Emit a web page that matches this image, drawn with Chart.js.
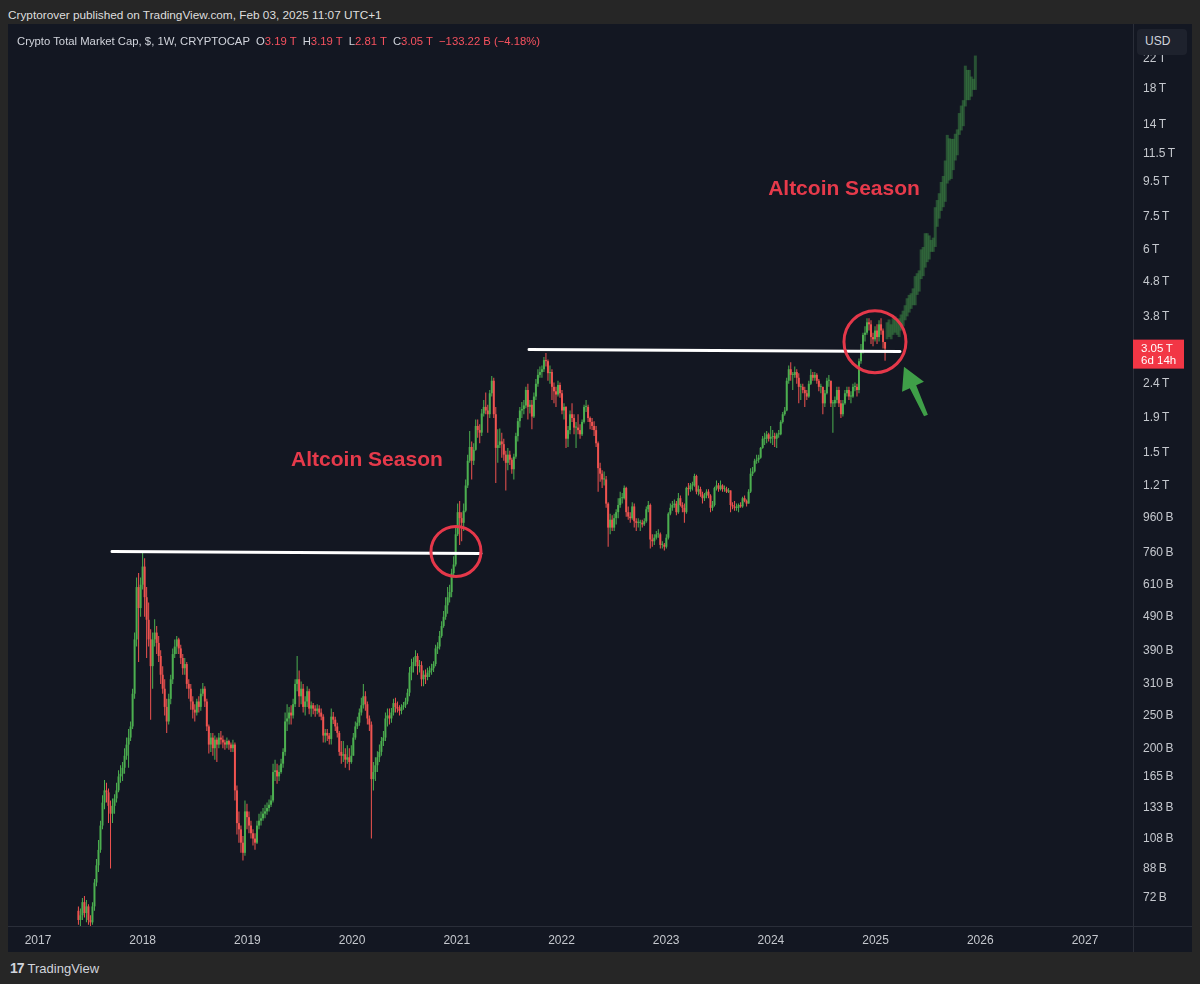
<!DOCTYPE html>
<html>
<head>
<meta charset="utf-8">
<script src="https://cdn.jsdelivr.net/npm/chart.js@4.4.1/dist/chart.umd.min.js"></script>
<style>
  html, body { margin: 0; padding: 0; }
  body { width: 1200px; height: 984px; background: #262626; position: relative; overflow: hidden;
         font-family: "Liberation Sans", Arial, sans-serif; }
  #pub { position: absolute; left: 8px; top: 8px; font-size: 11.8px; color: #dedede; white-space: nowrap; }
  #panel { position: absolute; left: 8px; top: 24px; width: 1184px; height: 928px; background: #131722; }
  #chart { position: absolute; left: 8px; top: 24px; }
  #legend { position: absolute; left: 17px; top: 35px; font-size: 11.3px; color: #d1d4dc; white-space: pre; z-index: 2; }
  #legend .r { color: #f7525f; }
  #usd { position: absolute; left: 1137px; top: 29px; width: 50px; height: 26px; border-radius: 4px;
         background: #1e222d; color: #d1d4dc; font-size: 12px; line-height: 24px; text-indent: 8px; z-index: 2; }
  #logo { position: absolute; left: 10px; top: 960px; font-size: 13px; color: #d1d4dc; white-space: nowrap; }
  #logo b { font-size: 14px; letter-spacing: -1px; margin-right: 4px; }
</style>
</head>
<body>
<div id="pub">Cryptorover published on TradingView.com, Feb 03, 2025 11:07 UTC+1</div>
<div id="panel"></div>
<canvas id="chart" width="1184" height="928"></canvas>
<div id="legend">Crypto Total Market Cap, $, 1W, CRYPTOCAP  O<span class="r">3.19 T</span>  H<span class="r">3.19 T</span>  L<span class="r">2.81 T</span>  C<span class="r">3.05 T</span>  <span class="r">−133.22 B (−4.18%)</span></div>
<div id="usd">USD</div>
<div id="logo"><b>17</b>TradingView</div>
<script>
// weekly candles, values in billions of USD, first week starts 22 May 2017
var firstWeek = 2017 + 141 / 365.25;
var weekStep = 7 / 365.25;
var firstOpen = 66;

var closes = [
  // 2017
  62,64,70,65,68,62,61,68,80,90, 100,118,138,150,148,135,128,135,142,150,
  165,168,175,190,205,215,232,290,420,600, 520,610,
  // 2018
  690,560,480,420,350,420,440,410,375,330, 300,265,240,280,320,380,400,420,395,370,
  345,355,310,300,275,260,255,275,265,290, 300,275,232,205,215,200,212,205,215,212,
  208,205,210,205,200,205,150,120,115,105, 98,130,
  // 2019
  125,118,112,108,105,118,122,124,128,130, 133,136,140,170,172,165,170,180,195,240,
  245,255,250,270,310,320,285,300,265,275, 295,262,268,262,258,262,255,248,218,222,
  218,213,248,243,232,222,195,190,192,185, 188,182,190,
  // 2020
  215,232,238,255,268,285,270,245,235,162, 170,178,188,195,210,215,245,250,245,255,
  272,265,262,258,265,268,275,292,335,350, 360,375,350,352,320,330,325,335,340,345,
  355,395,400,430,460,490,530,560,580,660, 700,860,
  // 2021
  1000,960,930,1010,1200,1420,1560,1420,1530,1800, 1750,1720,1960,2050,2000,1950,2250,2450,1950,1550,
  1580,1620,1590,1480,1400,1480,1430,1340,1460,1680, 1860,2000,2020,2070,2300,2050,2080,1920,2200,2400,
  2550,2600,2650,2820,2800,2580,2600,2350,2280,2230, 2380,2250,
  // 2022
  2000,2050,1650,1750,1950,1900,1780,1780,1750,1700, 1850,2050,2050,1900,1850,1800,1750,1600,1350,1300,
  1250,1250,1060,900,950,900,960,1000,1050,1100, 1100,1180,1000,970,960,1040,940,930,930,930,
  920,940,1020,1050,830,820,840,860,860,800, 800,790,
  // 2023
  840,990,1030,1050,1060,1000,1100,1050,1030,1000, 1180,1170,1200,1200,1280,1150,1170,1130,1100,1120,
  1150,1120,1030,1050,1180,1200,1170,1200,1170,1170, 1150,1160,1050,1040,1030,1030,1050,1040,1100,1080,
  1060,1150,1300,1320,1420,1430,1450,1550,1650,1650, 1700,1650,
  // 2024
  1670,1680,1650,1700,1700,1850,1950,2000,2450,2650, 2550,2550,2600,2500,2350,2350,2300,2250,2200,2400,
  2550,2500,2550,2450,2350,2350,2100,2250,2450,2450, 2100,2100,2150,2300,2100,1950,2100,2250,2300,2200,
  2200,2350,2350,2300,2800,3000,3350,3400,3650,3600, 3300,3250,
  // 2025
  3450,3300,3600,3450,3190,3050
];

var highs = [
  68,67,72,73,71,69,64,70,82,94, 107,122,145,161,158,152,140,142,146,158,
  172,178,182,200,215,228,240,300,440,640, 660,640,
  760,730,600,540,450,440,482,460,430,390, 350,320,280,290,330,395,420,430,425,405,
  380,370,360,320,310,285,270,280,285,300, 312,305,280,235,222,222,218,215,222,225,
  218,212,215,212,208,212,208,155,130,118, 110,140,
  137,130,122,115,112,122,128,130,133,136, 138,141,145,180,185,180,178,186,200,255,
  270,265,268,280,320,375,340,315,310,285, 305,300,275,272,268,270,268,262,252,228,
  228,222,262,256,248,238,225,210,210,200, 204,200,204,
  222,240,248,262,282,310,295,275,250,240, 182,188,196,205,216,225,255,262,262,263,
  280,282,275,268,270,274,282,300,348,368, 372,390,382,365,362,340,342,346,350,356,
  362,405,412,445,475,510,560,600,610,680, 740,900,
  1060,1080,1000,1060,1250,1480,1740,1620,1600,1880, 1880,1820,2020,2150,2260,2080,2300,2530,2500,2050,
  1760,1770,1720,1650,1520,1550,1520,1450,1490,1720, 1900,2050,2120,2150,2350,2400,2150,2150,2260,2480,
  2650,2700,2720,2880,2960,2830,2720,2650,2420,2350, 2450,2420,
  2300,2100,2060,1800,2000,2100,1950,1850,1950,1820, 1880,2080,2150,2080,1920,1900,1860,1800,1620,1400,
  1330,1320,1280,1070,990,980,990,1020,1100,1150, 1140,1200,1190,1040,1000,1070,1060,960,960,950,
  950,960,1040,1080,1060,860,860,880,890,870, 820,810,
  860,1000,1060,1080,1090,1080,1140,1120,1070,1060, 1190,1220,1220,1230,1300,1290,1200,1190,1150,1140,
  1170,1170,1130,1080,1190,1240,1220,1240,1210,1200, 1190,1180,1160,1070,1080,1060,1060,1070,1110,1120,
  1090,1170,1350,1360,1440,1480,1480,1560,1680,1720, 1740,1720,
  1800,1750,1720,1720,1750,1870,1980,2050,2500,2720, 2780,2600,2700,2650,2580,2400,2400,2350,2300,2450,
  2650,2600,2600,2580,2480,2400,2350,2300,2500,2550, 2450,2150,2200,2350,2350,2150,2150,2300,2350,2350,
  2280,2400,2420,2400,2850,3150,3400,3550,3750,3750, 3700,3400,
  3550,3600,3700,3750,3500,3190
];

var lows = [
  60,59,62,63,61,60,59,60,66,78, 86,98,115,132,138,120,88,120,128,138,
  148,158,160,168,185,175,210,228,280,400, 360,490,
  590,490,370,400,243,300,400,380,360,310, 290,250,222,235,270,310,370,380,380,355,
  330,330,300,280,260,245,240,250,255,258, 285,265,225,193,195,190,185,182,200,205,
  200,198,200,198,195,195,140,111,105,98, 93,96,
  115,112,108,103,100,104,115,118,122,124, 127,130,134,138,160,157,160,168,175,190,
  225,235,235,245,265,295,265,270,255,250, 265,252,248,252,248,252,248,242,208,208,
  210,205,205,236,225,215,190,180,182,175, 180,172,180,
  190,212,228,233,250,262,258,235,225,108, 150,160,170,182,190,203,210,232,235,238,
  250,255,255,250,252,260,263,270,285,318, 335,350,330,335,305,305,310,318,325,330,
  336,350,380,392,425,455,480,500,540,560, 640,690,
  850,800,820,880,1000,1180,1400,1250,1380,1520, 1660,1600,1680,1920,1950,1720,1900,2200,1900,1220,
  1400,1550,1450,1420,1160,1330,1380,1300,1250,1440, 1620,1780,1900,1950,2030,1880,1960,1760,1900,2150,
  2350,2500,2500,2600,2700,2450,2400,2150,2100,2050, 2200,2180,
  1950,1880,1550,1560,1700,1850,1700,1550,1700,1650, 1680,1830,1980,1850,1760,1750,1680,1560,1150,1230,
  1180,1200,1030,790,860,880,880,920,960,1030, 1060,1090,970,950,930,950,900,880,900,880,
  900,910,930,1000,780,790,800,830,840,780, 780,770,
  780,830,980,1010,1030,980,990,1040,1000,930, 990,1120,1150,1160,1190,1130,1120,1110,1060,1080,
  1100,1100,1000,1010,1040,1160,1150,1160,1150,1150, 1140,1140,1000,1020,1010,1010,1000,1030,1030,1070,
  1040,1060,1140,1280,1310,1390,1400,1440,1540,1580, 1600,1620,
  1600,1580,1560,1550,1660,1690,1830,1930,1990,2400, 2450,2300,2500,2400,2100,2150,2250,2050,2150,2180,
  2380,2450,2450,2400,2280,2250,1950,2050,2230,2350, 2050,1720,2050,2100,2050,1900,1920,2080,2200,2150,
  2100,2180,2280,2200,2250,2750,2950,3200,3350,3450, 3150,3100,
  3200,3150,3200,3350,3050,2810
];

// projected bars drawn after the last candle (low / high, billions)
var projLow = [
  3250,3300,3250,3350,3400,3350,3300,3450,3550,3700, 3800,3900,4000,4100,4100,4400,4500,4900,5000,5300,
  5500,5600,5900,5900,6100,7000,7400,7800,8000,8300, 9400,9600,9700,10300,11000,11400,13100,13500,13900,15900,
  16600,16600,17000,17800,17800
];
var projHigh = [
  3650,3720,3600,3750,3800,3700,3750,3850,3950,4100, 4300,4400,4450,4600,5000,5100,5200,6000,6100,6700,
  6700,6600,6400,6500,8000,8400,8800,9500,9900,11000, 13100,12800,12750,12750,13200,13600,15200,16000,16600,21000,
  20400,20400,19500,19200,22500
];

var yearTicks = [2017, 2018, 2019, 2020, 2021, 2022, 2023, 2024, 2025, 2026, 2027];
var priceTicks = [72, 88, 108, 133, 165, 200, 250, 310, 390, 490, 610, 760, 960, 1200, 1500, 1900,
                  2400, 3800, 4800, 6000, 7500, 9500, 11500, 14000, 18000, 22000];

var upColor = '#4caf50';
var downColor = '#ef5350';
var lastClose = closes[closes.length - 1];

// drawings: [year, value] anchors
var levelLines = [
  [2017.707, 765, 2021.231, 755],
  [2021.690, 3032, 2025.233, 2993]
];
var circles = [
  [2020.992, 765, 25],
  [2024.994, 3197, 31]
];
var seasonLabels = [
  [2020.142, 1424, 'Altcoin Season'],
  [2024.698, 9030, 'Altcoin Season']
];
var arrow = { tip: [2025.271, 2697], tail: [2025.481, 1933] };

var candles = closes.map(function (c, i) {
  var o = i === 0 ? firstOpen : closes[i - 1];
  return { t: firstWeek + i * weekStep, o: o, h: Math.max(highs[i], o, c), l: Math.min(lows[i], o, c), c: c };
});
var candleColors = candles.map(function (k) { return k.c >= k.o ? upColor : downColor; });

function fmtPrice(v) {
  return v >= 1000 ? (v / 1000) + '\u2009T' : v + '\u2009B';
}

var overlay = {
  id: 'overlay',
  afterDatasetsDraw: function (chart) {
    var ctx = chart.ctx, x = chart.scales.x, y = chart.scales.y;
    ctx.save();
    ctx.lineCap = 'round';
    ctx.strokeStyle = '#ffffff';
    ctx.lineWidth = 3;
    levelLines.forEach(function (l) {
      ctx.beginPath();
      ctx.moveTo(x.getPixelForValue(l[0]), y.getPixelForValue(l[1]));
      ctx.lineTo(x.getPixelForValue(l[2]), y.getPixelForValue(l[3]));
      ctx.stroke();
    });
    ctx.strokeStyle = '#e5384a';
    circles.forEach(function (c) {
      ctx.beginPath();
      ctx.arc(x.getPixelForValue(c[0]), y.getPixelForValue(c[1]), c[2], 0, Math.PI * 2);
      ctx.stroke();
    });
    ctx.fillStyle = '#e63a4b';
    ctx.font = 'bold 21px "Liberation Sans", Arial, sans-serif';
    ctx.textAlign = 'center';
    ctx.textBaseline = 'middle';
    seasonLabels.forEach(function (s) {
      ctx.fillText(s[2], x.getPixelForValue(s[0]), y.getPixelForValue(s[1]));
    });
    // green arrow
    var tx = x.getPixelForValue(arrow.tip[0]), ty = y.getPixelForValue(arrow.tip[1]);
    var bx = x.getPixelForValue(arrow.tail[0]), by = y.getPixelForValue(arrow.tail[1]);
    var dx = tx - bx, dy = ty - by, len = Math.sqrt(dx * dx + dy * dy);
    var ux = dx / len, uy = dy / len, px = -uy, py = ux;
    var headLen = 22, headW = 12, shaftW = 3.5;
    var hx = tx - ux * headLen, hy = ty - uy * headLen;
    ctx.fillStyle = '#3f9f48';
    ctx.beginPath();
    ctx.moveTo(tx, ty);
    ctx.lineTo(hx + px * headW, hy + py * headW);
    ctx.lineTo(hx + px * shaftW, hy + py * shaftW);
    ctx.lineTo(bx + px * shaftW * 0.6, by + py * shaftW * 0.6);
    ctx.lineTo(bx - px * shaftW * 0.6, by - py * shaftW * 0.6);
    ctx.lineTo(hx - px * shaftW, hy - py * shaftW);
    ctx.lineTo(hx - px * headW, hy - py * headW);
    ctx.closePath();
    ctx.fill();
    ctx.restore();
  },
  afterDraw: function (chart) {
    var ctx = chart.ctx, area = chart.chartArea, y = chart.scales.y;
    ctx.save();
    ctx.strokeStyle = '#2a2e39';
    ctx.lineWidth = 1;
    ctx.beginPath();
    ctx.moveTo(Math.round(area.right) + 0.5, 0);
    ctx.lineTo(Math.round(area.right) + 0.5, chart.height);
    ctx.moveTo(0, Math.round(area.bottom) + 0.5);
    ctx.lineTo(chart.width, Math.round(area.bottom) + 0.5);
    ctx.stroke();
    // last price tag
    var p = y.getPixelForValue(lastClose);
    ctx.fillStyle = '#f23645';
    ctx.fillRect(area.right, p - 9, 51, 29);
    ctx.fillStyle = '#ffffff';
    ctx.font = '11.5px "Liberation Sans", Arial, sans-serif';
    ctx.textAlign = 'left';
    ctx.textBaseline = 'middle';
    ctx.fillText(fmtPrice(lastClose), area.right + 8, p);
    ctx.fillText('6d 14h', area.right + 8, p + 12);
    ctx.restore();
  }
};

var tickFont = { family: '"Liberation Sans", Arial, sans-serif', size: 12 };

new Chart(document.getElementById('chart'), {
  type: 'bar',
  data: {
    datasets: [
      {
        label: 'body',
        data: candles.map(function (k) { return { x: k.t, y: [k.o, k.c] }; }),
        backgroundColor: candleColors,
        barThickness: 2,
        minBarLength: 1,
        grouped: false,
        inflateAmount: 0,
        order: 1
      },
      {
        label: 'wick',
        data: candles.map(function (k) { return { x: k.t, y: [k.l, k.h] }; }),
        backgroundColor: candleColors,
        barThickness: 1,
        grouped: false,
        inflateAmount: 0,
        order: 2
      },
      {
        label: 'projection',
        data: projLow.map(function (lo, j) {
          return { x: firstWeek + (closes.length + j) * weekStep, y: [lo, projHigh[j]] };
        }),
        backgroundColor: 'rgba(62,140,70,0.5)',
        barThickness: 3,
        grouped: false,
        inflateAmount: 0,
        order: 3
      }
    ]
  },
  options: {
    responsive: false,
    animation: false,
    devicePixelRatio: 1,
    layout: { padding: 0 },
    plugins: { legend: { display: false }, tooltip: { enabled: false } },
    scales: {
      x: {
        type: 'linear',
        bounds: 'data',
        min: 2016.7135,
        max: 2027.4585,
        offset: false,
        grid: { display: false, drawTicks: false },
        border: { display: false },
        afterBuildTicks: function (s) { s.ticks = yearTicks.map(function (v) { return { value: v }; }); },
        afterFit: function (s) { s.height = 26; s.paddingLeft = 0; s.paddingRight = 0; },
        ticks: {
          color: '#c5c8ce', font: tickFont, padding: 7, maxRotation: 0, autoSkip: false,
          callback: function (v) { return String(v); }
        }
      },
      y: {
        type: 'logarithmic',
        position: 'right',
        bounds: 'data',
        min: 59.5,
        max: 27900,
        grid: { display: false, drawTicks: false },
        border: { display: false },
        afterBuildTicks: function (s) { s.ticks = priceTicks.map(function (v) { return { value: v }; }); },
        afterFit: function (s) { s.width = 59; s.paddingTop = 0; s.paddingBottom = 0; },
        ticks: {
          color: '#c5c8ce', font: tickFont, padding: 10, autoSkip: false,
          callback: function (v) { return fmtPrice(v); }
        }
      }
    }
  },
  plugins: [overlay]
});
</script>
</body>
</html>
